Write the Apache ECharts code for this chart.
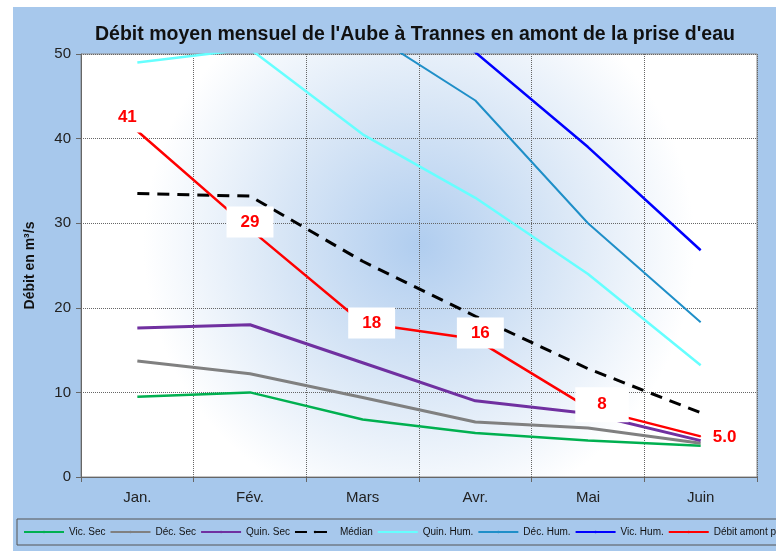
<!DOCTYPE html>
<html>
<head>
<meta charset="utf-8">
<script src="https://cdn.jsdelivr.net/npm/echarts@6/dist/echarts.min.js"></script>
<style>
  html, body { margin: 0; padding: 0; background: #fff; }
  #chart { width: 776px; height: 551px; }
</style>
</head>
<body>
<div id="chart"></div>
<script>
// months
const months = ['Jan.', 'Fév.', 'Mars', 'Avr.', 'Mai', 'Juin'];

// débits (m3/s)
const vicSec = [9.5, 10.0, 6.8, 5.2, 4.3, 3.7];
const decSec = [13.7, 12.2, 9.4, 6.5, 5.8, 4.0];
const quinSec = [17.6, 18.0, 13.5, 9.0, 7.5, 4.3];
const median = [33.5, 33.2, 25.5, 19.0, 12.8, 7.6];
const quinHum = [49.0, 50.6, 40.5, 33.0, 24.0, 13.2];
const decHum = [70.0, 62.0, 53.0, 44.5, 30.0, 18.3];
const vicHum = [85.0, 75.0, 62.0, 50.2, 39.0, 26.8];
const debitAmont = [40.9, 29.3, 18.2, 16.3, 8.2, 4.8];
const debitLabels = ['41', '29', '18', '16', '8', '5.0'];

const yTicks = [0, 10, 20, 30, 40, 50];

const chart = echarts.init(document.getElementById('chart'));

function line(name, data, color, width, dashed) {
  return {
    name: name,
    type: 'line',
    data: data,
    symbol: 'none',
    clip: true,
    lineStyle: { color: color, width: width, type: dashed ? [12, 8] : 'solid' },
    itemStyle: { color: color },
    emphasis: { disabled: true }
  };
}

// label offsets / box padding around the red series points
const labelOffsets = [[-10, -14], [0, -7], [9, 0], [5, -6], [14, -3], [24, 1]];
const labelPads = [[8, 12, 6, 12], [8, 14, 6, 14], [8, 14, 6, 14], [8, 14, 6, 14], [10, 22, 8, 22], [8, 6, 6, 6]];

const amont = line('Débit amont prise', debitAmont.map(function (v, i) {
  return {
    value: v,
    label: { offset: labelOffsets[i], padding: labelPads[i], formatter: debitLabels[i] }
  };
}), '#ff0000', 2.5);
amont.symbol = 'circle';
amont.symbolSize = 1;
amont.showSymbol = true;
amont.label = {
  show: true,
  position: 'inside',
  color: '#ff0000',
  fontWeight: 'bold',
  fontSize: 17,
  fontFamily: 'Liberation Sans',
  backgroundColor: '#ffffff'
};
amont.z = 5;

chart.setOption({
  animation: false,
  backgroundColor: '#ffffff',
  graphic: [{
    type: 'rect',
    shape: { x: 13, y: 7, width: 763, height: 544 },
    style: { fill: '#a7c8ec' },
    z: -10
  }],
  title: {
    text: "Débit moyen mensuel de l'Aube à Trannes en amont de la prise d'eau",
    left: 410,
    textAlign: 'center',
    top: 20,
    textStyle: { fontFamily: 'Liberation Sans', fontWeight: 'bold', fontSize: 19.5, color: '#111' }
  },
  legend: {
    left: 17,
    bottom: 6,
    width: 780,
    itemWidth: 40,
    itemHeight: 3,
    itemGap: 4,
    padding: [8, 4, 8, 6],
    borderColor: '#555',
    borderWidth: 1,
    textStyle: { fontFamily: 'Liberation Sans', fontSize: 10, color: '#111' },
    data: ['Vic. Sec', 'Déc. Sec', 'Quin. Sec', 'Médian', 'Quin. Hum.', 'Déc. Hum.', 'Vic. Hum.', 'Débit amont prise']
  },
  grid: {
    left: 81, right: 19, top: 54, bottom: 74,
    show: true,
    borderColor: '#8a8a8a',
    borderWidth: 1,
    backgroundColor: new echarts.graphic.RadialGradient(0.5, 0.45, 0.65, [
      { offset: 0, color: '#b0cdef' },
      { offset: 0.5, color: '#d8e6f6' },
      { offset: 1, color: '#ffffff' }
    ])
  },
  xAxis: {
    type: 'category',
    data: months,
    boundaryGap: true,
    axisLine: { lineStyle: { color: '#666' } },
    axisTick: { show: true, length: 5, lineStyle: { color: '#666' } },
    axisLabel: { fontFamily: 'Liberation Sans', fontSize: 15, color: '#222', margin: 13 },
    splitLine: { show: true, lineStyle: { color: '#666', type: [1, 1], width: 1 } }
  },
  yAxis: {
    type: 'value',
    min: yTicks[0],
    max: yTicks[yTicks.length - 1],
    interval: 10,
    name: 'Débit en m³/s',
    nameLocation: 'middle',
    nameGap: 44,
    nameTextStyle: { fontFamily: 'Liberation Sans', fontWeight: 'bold', fontSize: 14, color: '#111' },
    axisLine: { show: true, lineStyle: { color: '#666' } },
    axisTick: { show: true, length: 5, lineStyle: { color: '#666' } },
    axisLabel: { fontFamily: 'Liberation Sans', fontSize: 15, color: '#222', margin: 10 },
    splitLine: { show: true, lineStyle: { color: '#666', type: [1, 1], width: 1 } }
  },
  series: [
    line('Vic. Sec', vicSec, '#00b050', 2.5),
    line('Déc. Sec', decSec, '#808080', 3),
    line('Quin. Sec', quinSec, '#7030a0', 3),
    line('Médian', median, '#000000', 3, true),
    line('Quin. Hum.', quinHum, '#66ffff', 2.5),
    line('Déc. Hum.', decHum, '#1f8fc8', 2),
    line('Vic. Hum.', vicHum, '#0000ff', 2.5),
    amont
  ]
});
</script>
</body>
</html>
